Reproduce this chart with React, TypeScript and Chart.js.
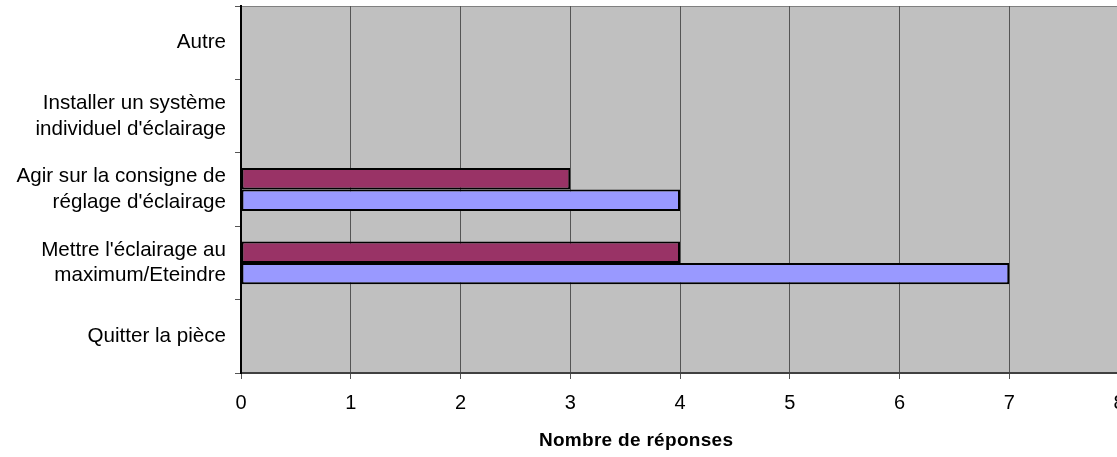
import React, { useEffect, useRef } from 'react';
import { Chart, registerables } from 'chart.js';

Chart.register(...registerables);

const categories: string[][] = [
  ['Autre'],
  ['Installer un système', "individuel d'éclairage"],
  ['Agir sur la consigne de', "réglage d'éclairage"],
  ["Mettre l'éclairage au", 'maximum/Eteindre'],
  ['Quitter la pièce'],
];
const seriesMaroon: number[] = [0, 0, 3, 4, 0];
const seriesBlue: number[] = [0, 0, 4, 7, 0];
const xMin = 0;
const xMax = 8;
const xStep = 1;
const axisTitle = 'Nombre de réponses';

const FONT = "'Liberation Sans', Arial, sans-serif";
const CANVAS_W = 1140;
const CANVAS_H = 457;

export default function App() {
  const ref = useRef<HTMLCanvasElement | null>(null);

  useEffect(() => {
    if (!ref.current) return;
    const bgPlugin = {
      id: 'plotBg',
      beforeDraw(chart: any) {
        const { ctx, chartArea } = chart;
        ctx.save();
        ctx.fillStyle = '#C0C0C0';
        ctx.fillRect(chartArea.left, chartArea.top, chartArea.right - chartArea.left, chartArea.bottom - chartArea.top);
        ctx.strokeStyle = '#808080';
        ctx.lineWidth = 1;
        ctx.beginPath();
        ctx.moveTo(chartArea.left, chartArea.top + 0.5);
        ctx.lineTo(chartArea.right, chartArea.top + 0.5);
        ctx.stroke();
        ctx.restore();
      },
      afterDraw(chart: any) {
        const { ctx, chartArea } = chart;
        ctx.save();
        ctx.font = `bold 19px ${FONT}`;
        try { (ctx as any).letterSpacing = '0.3px'; } catch (e) {}
        ctx.fillStyle = '#000';
        ctx.textAlign = 'center';
        ctx.textBaseline = 'middle';
        const x = chartArea.left + (chartArea.right - chartArea.left) * 0.45;
        ctx.fillText(axisTitle, x, 441);
        ctx.restore();
      },
    };

    const chart = new Chart(ref.current, {
      type: 'bar',
      data: {
        labels: categories as any,
        datasets: [
          {
            data: seriesMaroon,
            backgroundColor: '#993366',
            borderColor: '#000000',
            borderWidth: 2,
            borderSkipped: false,
            categoryPercentage: 0.585,
            barPercentage: 1.0,
          },
          {
            data: seriesBlue,
            backgroundColor: '#9999FF',
            borderColor: '#000000',
            borderWidth: 2,
            borderSkipped: false,
            categoryPercentage: 0.585,
            barPercentage: 1.0,
          },
        ],
      },
      options: {
        indexAxis: 'y',
        responsive: false,
        animation: false,
        devicePixelRatio: 1,
        layout: { padding: { left: 0, top: 6, right: CANVAS_W - 1119, bottom: 0 } },
        plugins: {
          legend: { display: false },
          tooltip: { enabled: false },
          title: { display: false },
        },
        scales: {
          x: {
            type: 'linear',
            min: xMin,
            max: xMax,
            ticks: {
              stepSize: xStep,
              color: '#000',
              font: { family: FONT, size: 20 },
              padding: 12,
              maxRotation: 0,
            },
            grid: {
              color: '#555555',
              lineWidth: 1,
              tickLength: 6,
              tickColor: '#555555',
            },
            border: { display: true, color: '#404040', width: 2 },
            afterFit(scale: any) {
              scale.height = CANVAS_H - 373;
              scale.paddingLeft = 0;
              scale.paddingRight = 0;
            },
          },
          y: {
            type: 'category',
            offset: true,
            ticks: {
              color: '#000',
              font: { family: FONT, size: 20.6, lineHeight: 1.24 },
              padding: 9,
              autoSkip: false,
            },
            grid: {
              offset: true,
              drawOnChartArea: false,
              tickLength: 6,
              tickColor: '#555555',
            },
            border: { display: true, color: '#000000', width: 2 },
            afterFit(scale: any) {
              scale.width = 241;
              scale.paddingTop = 0;
              scale.paddingBottom = 0;
            },
          },
        },
      },
      plugins: [bgPlugin],
    } as any);

    return () => chart.destroy();
  }, []);

  return (
    <div style={{ position: 'absolute', left: 0, top: 0, width: 1117, height: 457, overflow: 'hidden', background: '#fff' }}>
      <canvas ref={ref} width={CANVAS_W} height={CANVAS_H} style={{ width: CANVAS_W, height: CANVAS_H, display: 'block' }} />
    </div>
  );
}
